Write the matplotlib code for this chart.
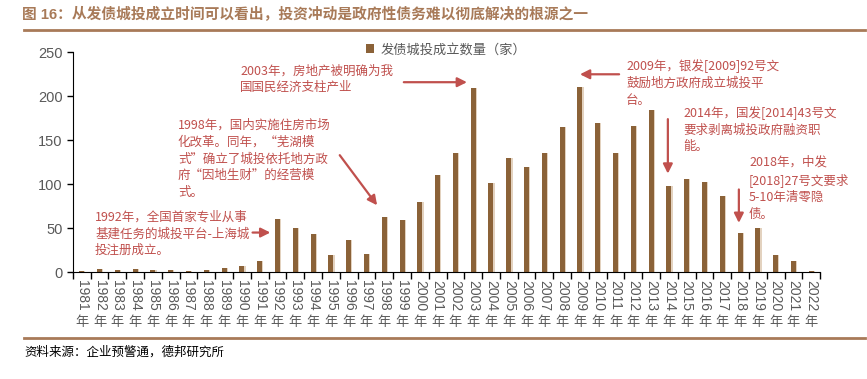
import matplotlib.pyplot as plt
import numpy as np

plt.rcParams['font.family'] = ['Liberation Sans', 'Noto Sans CJK SC', 'DejaVu Sans']

years = [str(y) for y in range(1981, 2023)]
counts = [1, 3, 2, 4, 2, 2, 1, 2, 5, 7, 13, 60, 50, 43, 20, 36, 21, 63, 59, 80,
          111, 136, 209, 101, 130, 120, 136, 165, 211, 170, 136, 166, 184, 98,
          106, 103, 87, 45, 50, 20, 13, 1]

title = "图 16：从发债城投成立时间可以看出，投资冲动是政府性债务难以彻底解决的根源之一"
source = "资料来源：企业预警通，德邦研究所"
legend_label = "发债城投成立数量（家）"

notes = [
    ("2003年，房地产被明确为我\n国国民经济支柱产业", (8.9, 236), (18.1, 216), (21.65, 216)),
    ("1998年，国内实施住房市场\n化改革。同年，“芜湖模\n式”确立了城投依托地方政\n府“因地生财”的经营模\n式。", (5.4, 174), (14.5, 133), (16.6, 76)),
    ("1992年，全国首家专业从事\n基建任务的城投平台-上海城\n投注册成立。", (0.75, 70), (9.6, 45), (10.6, 45)),
    ("2009年，银发[2009]92号文\n鼓励地方政府成立城投平\n台。", (30.6, 242), (30.2, 225), (28.0, 225)),
    ("2014年，国发[2014]43号文\n要求剥离城投政府融资职\n能。", (33.8, 189), (32.94, 174), (32.94, 112)),
    ("2018年，中发\n[2018]27号文要求\n5-10年清零隐\n债。", (37.5, 132), (36.93, 94), (36.93, 56)),
]

bar_color = '#8B6238'
red = '#C0504D'
gray = '#595959'
line_color = '#A87A58'

fig = plt.figure(figsize=(8.67, 3.79), dpi=100)
ax = fig.add_axes([0.084, 0.282, 0.862, 0.580])

x = np.arange(len(years))
ax.bar(x + 0.06, counts, width=0.3, color='#E3D2BF', zorder=1)
bars = ax.bar(x, counts, width=0.28, color=bar_color, zorder=2)

ax.set_xlim(-0.5, len(years) - 0.5)
ax.set_ylim(0, 250)
ax.set_yticks([0, 50, 100, 150, 200, 250])
ax.tick_params(axis='y', labelsize=10.5, labelcolor=gray, color='black', length=4, width=1)

ax.set_xticks(x)
ax.set_xticklabels(years, rotation=270, fontsize=10, color=gray)
ax.tick_params(axis='x', which='major', length=0, pad=6)
ax.set_xticks(np.arange(-0.5, len(years)), minor=True)
ax.tick_params(axis='x', which='minor', length=5, width=1, color='black')
for i in x:
    ax.text(i, -0.228, '年', transform=ax.get_xaxis_transform(), ha='center',
            va='center', fontsize=9.5, color=gray)

for s in ['top', 'right']:
    ax.spines[s].set_visible(False)

ax.legend([bars], [legend_label], loc='upper center', bbox_to_anchor=(0.5, 1.095),
          frameon=False, fontsize=9.5, handlelength=0.6, handleheight=0.6,
          handletextpad=0.5, labelcolor=gray)

for text, pos, start, end in notes:
    ax.text(pos[0], pos[1], text, ha='left', va='top', fontsize=9, color=red,
            linespacing=1.37, family=['Noto Sans CJK SC', 'DejaVu Sans'])
    ax.annotate('', xy=end, xytext=start,
                arrowprops=dict(arrowstyle='-|>', color=red, lw=1.6, mutation_scale=14,
                                shrinkA=0, shrinkB=0))

fig.text(0.025, 0.963, title, fontsize=10.6, color=line_color, fontweight='bold',
         ha='left', va='center')
fig.add_artist(plt.Line2D([0.028, 0.998], [0.92, 0.92], color=line_color, lw=2))
fig.add_artist(plt.Line2D([0.028, 0.998], [0.108, 0.108], color=line_color, lw=2))
fig.text(0.028, 0.07, source, fontsize=9, color='black', ha='left', va='center')

fig.savefig('out.png', dpi=100)
